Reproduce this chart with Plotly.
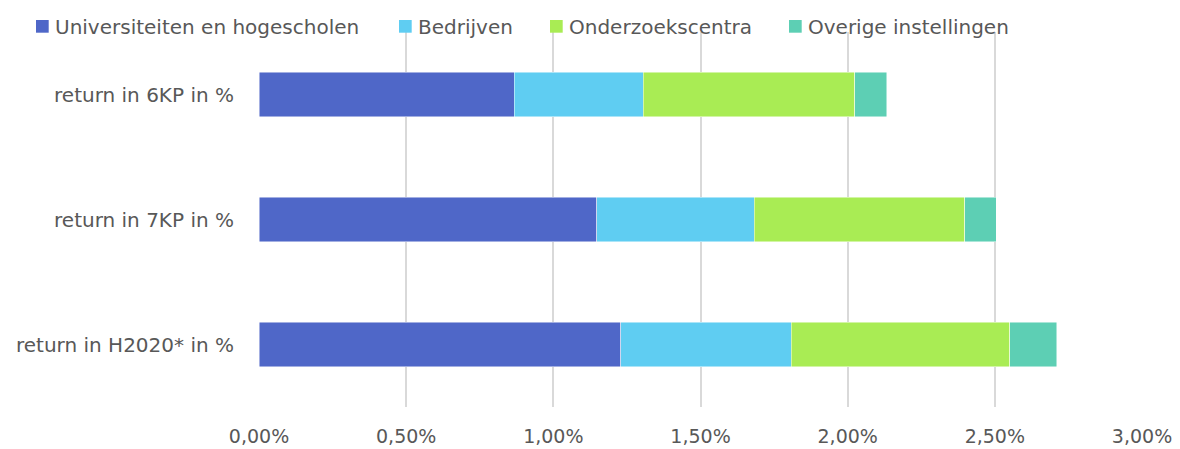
import plotly.graph_objects as go

categories = ["return in 6KP in %", "return in 7KP in %", "return in H2020* in %"]
series_names = ["Universiteiten en hogescholen", "Bedrijven", "Onderzoekscentra", "Overige instellingen"]
universiteiten = [0.867, 1.148, 1.229]
bedrijven = [0.439, 0.534, 0.580]
onderzoekscentra = [0.718, 0.715, 0.741]
overige = [0.108, 0.108, 0.160]
colors = ["#4F67C8", "#5FCDF2", "#A9EC54", "#5DCFB4"]
x_ticks = [0, 0.5, 1.0, 1.5, 2.0, 2.5, 3.0]
x_tick_labels = ["0,00%", "0,50%", "1,00%", "1,50%", "2,00%", "2,50%", "3,00%"]

# layout geometry (pixels)
W, H = 1180, 449
ML, MR, MT, MB = 259, 38, 32, 42
PW, PH = W - ML - MR, H - MT - MB
legend_swatch_px = [36.0, 399.0, 550.0, 789.0]
SW = 12.7
FONT = "DejaVu Sans"
TXT = "#585858"


def px_x(px):
    return (px - ML) / PW


def px_y(py):
    return (H - MB - py) / PH


fig = go.Figure()
for name, vals, col in zip(series_names, [universiteiten, bedrijven, onderzoekscentra, overige], colors):
    fig.add_trace(go.Bar(
        y=categories, x=vals, name=name, orientation="h",
        marker=dict(color=col, line=dict(color="rgba(255,255,255,0.6)", width=0.8)),
        showlegend=False,
    ))

shapes = []
annotations = []
for name, col, sx in zip(series_names, colors, legend_swatch_px):
    shapes.append(dict(type="rect", xref="paper", yref="paper",
                       x0=px_x(sx), x1=px_x(sx + SW), y0=px_y(32.7), y1=px_y(20),
                       fillcolor=col, line=dict(width=0)))
    annotations.append(dict(text=name, xref="paper", yref="paper",
                            x=px_x(sx + SW + 5), y=px_y(26.5), xanchor="left", yanchor="middle",
                            showarrow=False, borderpad=0,
                            font=dict(family=FONT, size=20, color=TXT)))

fig.update_layout(
    barmode="stack",
    bargap=0.643,
    width=W, height=H,
    margin=dict(l=ML, r=MR, t=MT, b=MB, autoexpand=False),
    plot_bgcolor="white", paper_bgcolor="white",
    font=dict(family=FONT, size=20, color=TXT),
    showlegend=False,
    shapes=shapes,
    annotations=annotations,
    xaxis=dict(range=[0, 3], tickvals=x_ticks, ticktext=x_tick_labels,
               showgrid=True, gridcolor="#D9D9D9", gridwidth=1.5,
               zeroline=False, showline=False, ticks="", ticklabelstandoff=16,
               tickfont=dict(size=19), automargin=False),
    yaxis=dict(autorange="reversed", showgrid=False, showline=False, ticks="",
               ticklabelstandoff=24, tickfont=dict(size=20), automargin=False),
)

fig.write_html("out.html",
               config={"displayModeBar": False},
               post_script="document.body.style.margin='0';document.body.style.padding='0';")
